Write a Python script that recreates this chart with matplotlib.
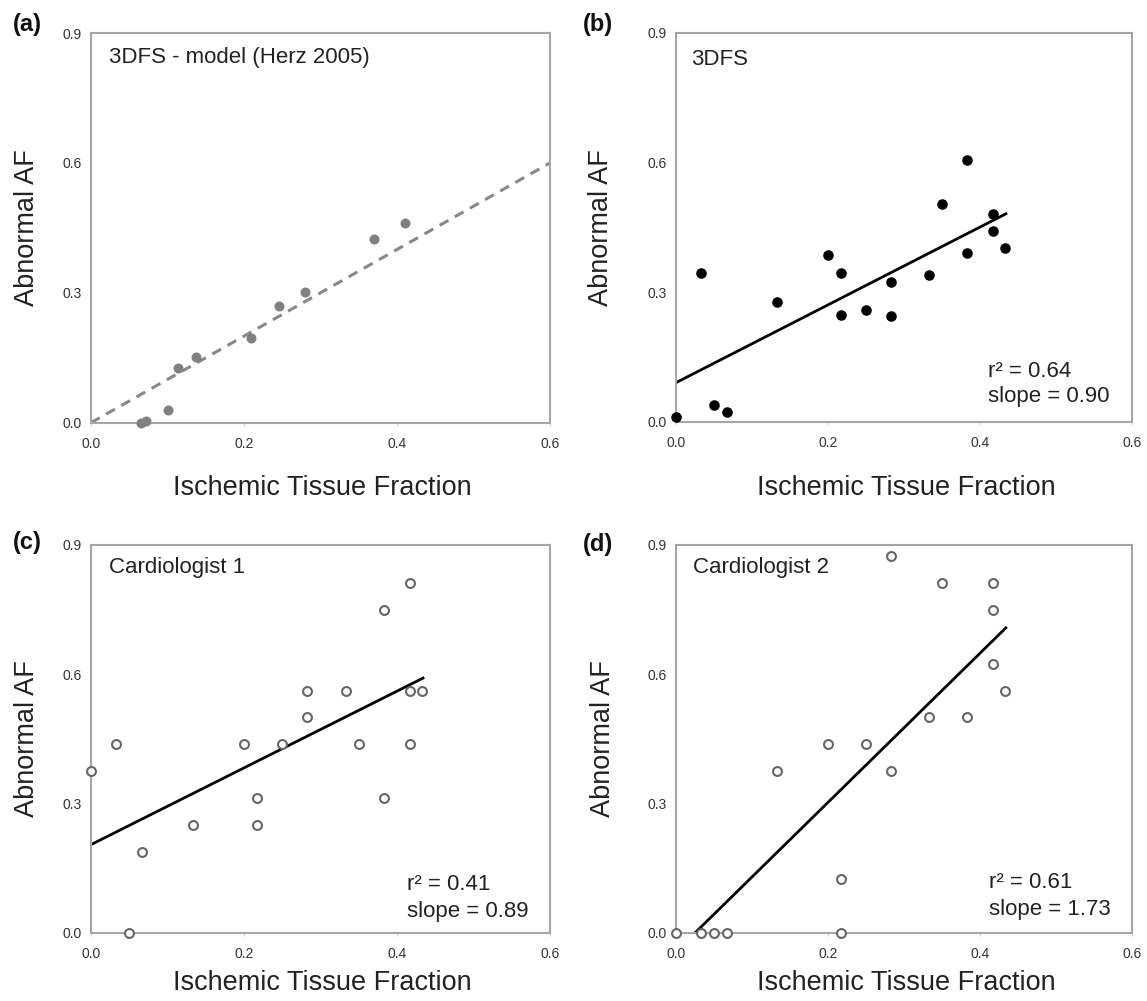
import numpy as np
import matplotlib
matplotlib.use("Agg")
import matplotlib.pyplot as plt

plt.rcParams['font.family'] = ['Liberation Sans', 'DejaVu Sans']

# panel (a): 3DFS model points (Herz 2005)
x_a = [0.065, 0.072, 0.100, 0.114, 0.137, 0.209, 0.246, 0.280, 0.370, 0.411]
y_a = [0.000, 0.004, 0.029, 0.126, 0.152, 0.196, 0.270, 0.301, 0.424, 0.462]

# panel (b): 3DFS
x_b = [0.000, 0.033, 0.050, 0.067, 0.133, 0.200, 0.217, 0.217, 0.250,
       0.283, 0.283, 0.333, 0.350, 0.383, 0.383, 0.417, 0.417, 0.433]
y_b = [0.012, 0.344, 0.039, 0.024, 0.278, 0.387, 0.344, 0.247, 0.260,
       0.325, 0.245, 0.341, 0.504, 0.606, 0.391, 0.482, 0.441, 0.403]

# panel (c): Cardiologist 1
x_c = [0.000, 0.033, 0.050, 0.067, 0.133, 0.200, 0.217, 0.217, 0.250, 0.283,
       0.283, 0.333, 0.350, 0.383, 0.383, 0.417, 0.417, 0.417, 0.433]
y_c = [0.375, 0.4375, 0.000, 0.1875, 0.250, 0.4375, 0.3125, 0.250, 0.4375, 0.5625,
       0.500, 0.5625, 0.4375, 0.750, 0.3125, 0.8125, 0.5625, 0.4375, 0.5625]

# panel (d): Cardiologist 2
x_d = [0.000, 0.033, 0.050, 0.067, 0.133, 0.200, 0.217, 0.217, 0.250,
       0.283, 0.283, 0.333, 0.350, 0.383, 0.417, 0.417, 0.417, 0.433]
y_d = [0.000, 0.000, 0.000, 0.000, 0.375, 0.4375, 0.125, 0.000, 0.4375,
       0.875, 0.375, 0.500, 0.8125, 0.500, 0.8125, 0.750, 0.625, 0.5625]

# regression lines: slope, intercept, x range
fit_a = (1.00, 0.000, 0.0, 0.6)
fit_b = (0.90, 0.091, 0.0, 0.434)
fit_c = (0.89, 0.205, 0.0, 0.434)
fit_d = (1.73, -0.043, 0.025, 0.434)

titles = ['3DFS - model (Herz 2005)', '3DFS', 'Cardiologist 1', 'Cardiologist 2']
panel_tags = ['(a)', '(b)', '(c)', '(d)']
stats = [None, ('0.64', '0.90'), ('0.41', '0.89'), ('0.61', '1.73')]

W, H = 1147, 1001
fig = plt.figure(figsize=(W / 100, H / 100), dpi=100)

# axes boxes in pixels: left, right, top, bottom
boxes = [(91, 550, 33, 422.7), (676, 1132, 33, 422),
         (91, 550, 545, 933), (676, 1132, 545, 933)]
ylab_x = [-0.112, -0.136, -0.112, -0.132]
xlab_y = [-0.135, -0.135, -0.095, -0.095]
title_pos = [(0.039, 0.923), (0.033, 0.918), (0.039, 0.928), (0.037, 0.928)]
stat_pos = [None, (0.684, 0.116, 0.051), (0.688, 0.111, 0.041), (0.686, 0.116, 0.046)]
tag_pos = [(13, 25), (583, 25), (13, 543), (583, 545)]

spine_col = '#a6a6a6'
xs_all = [x_a, x_b, x_c, x_d]
ys_all = [y_a, y_b, y_c, y_d]
fits = [fit_a, fit_b, fit_c, fit_d]

for i in range(4):
    l, r, t, b = boxes[i]
    ax = fig.add_axes([l / W, 1 - b / H, (r - l) / W, (b - t) / H])
    ax.set_xlim(0, 0.6)
    ax.set_ylim(0, 0.9)
    ax.set_xticks([0.0, 0.2, 0.4, 0.6])
    ax.set_yticks([0.0, 0.3, 0.6, 0.9])
    ax.set_xticklabels(['0.0', '0.2', '0.4', '0.6'])
    ax.set_yticklabels(['0.0', '0.3', '0.6', '0.9'])
    ax.tick_params(axis='x', length=2, color='#d0d0d0', pad=8, labelsize=10, labelcolor='#333333')
    ax.tick_params(axis='y', length=0, pad=7, labelsize=10, labelcolor='#333333')
    for s in ax.spines.values():
        s.set_color(spine_col)
        s.set_linewidth(1.5)

    slope, icpt, x0, x1 = fits[i]
    xl = np.array([x0, x1])
    if i == 0:
        ax.plot(xl, slope * xl + icpt, color='#888888', lw=2.2, ls=(0, (3.3, 2.4)), zorder=2)
        ax.plot(xs_all[i], ys_all[i], 'o', color='#808080', ms=7.2, mec='none', clip_on=False, zorder=3)
    elif i == 1:
        ax.plot(xl, slope * xl + icpt, color='black', lw=2.0, zorder=2)
        ax.plot(xs_all[i], ys_all[i], 'o', color='black', ms=7.6, mec='none', clip_on=False, zorder=3)
    else:
        ax.plot(xl, slope * xl + icpt, color='black', lw=2.0, zorder=2)
        ax.plot(xs_all[i], ys_all[i], 'o', mfc='white', mec='#666666', mew=1.5, ms=6.4,
                clip_on=False, zorder=3)

    ax.set_xlabel('Ischemic Tissue Fraction', fontsize=19.5, color='#222222')
    ax.set_ylabel('Abnormal AF', fontsize=19.5, color='#222222')
    ax.xaxis.set_label_coords(0.505, xlab_y[i])
    ax.yaxis.set_label_coords(ylab_x[i], 0.5)

    tx, ty = title_pos[i]
    ax.text(tx, ty, titles[i], transform=ax.transAxes, fontsize=16, va='baseline',
            ha='left', color='#222222')
    if stats[i] is not None:
        sx, sy1, sy2 = stat_pos[i]
        ax.text(sx, sy1, 'r\u00b2 = ' + stats[i][0], transform=ax.transAxes, fontsize=16,
                va='baseline', ha='left', color='#222222')
        ax.text(sx, sy2, 'slope = ' + stats[i][1], transform=ax.transAxes, fontsize=16,
                va='baseline', ha='left', color='#222222')

    px, py = tag_pos[i]
    fig.text(px / W, 1 - py / H, panel_tags[i], fontsize=17, fontweight='bold',
             ha='left', va='center', color='#111111')

fig.savefig('out.png', dpi=100)
